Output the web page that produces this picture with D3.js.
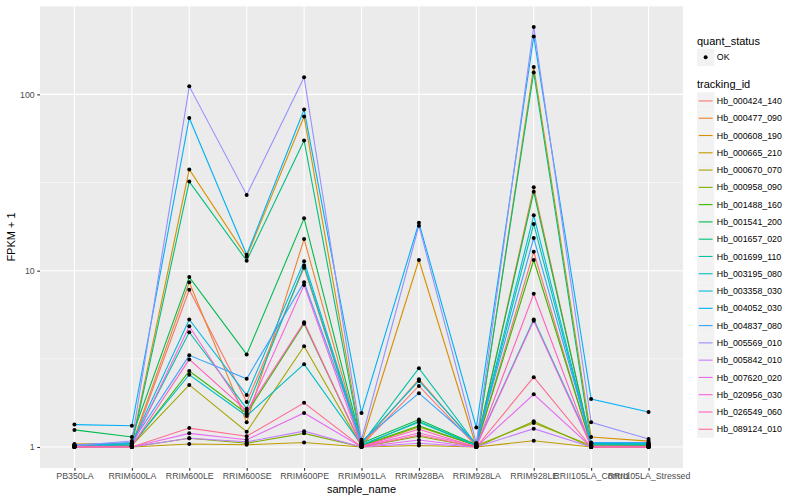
<!DOCTYPE html>
<html><head><meta charset="utf-8">
<script src="https://cdn.jsdelivr.net/npm/d3@7"></script>
<style>body{margin:0;background:#fff}svg{display:block}text{font-family:"Liberation Sans",Arial,Helvetica,sans-serif}</style>
</head><body><svg id="c" width="800" height="500"></svg>
<script>
const categories = ["PB350LA","RRIM600LA","RRIM600LE","RRIM600SE","RRIM600PE","RRIM901LA","RRIM928BA","RRIM928LA","RRIM928LE","RRII105LA_Control","RRII105LA_Stressed"];
const trackingIds = ["Hb_000424_140","Hb_000477_090","Hb_000608_190","Hb_000665_210","Hb_000670_070","Hb_000958_090","Hb_001488_160","Hb_001541_200","Hb_001657_020","Hb_001699_110","Hb_003195_080","Hb_003358_030","Hb_004052_030","Hb_004837_080","Hb_005569_010","Hb_005842_010","Hb_007620_020","Hb_020956_030","Hb_026549_060","Hb_089124_010"];
const colors = ["#F8766D","#EA8331","#D89000","#C09B00","#A3A500","#7CAE00","#39B600","#00BB4E","#00BF7D","#00C1A3","#00BFC4","#00BAE0","#00B0F6","#35A2FF","#9590FF","#C77CFF","#E76BF3","#FA62DB","#FF62BC","#FF6C91"];
const Hb_000424_140 = [1.0,1.01,7.8,1.80,10.4,1.02,2.22,1.01,12.8,1.01,1.0];
const Hb_000477_090 = [1.02,1.03,8.6,1.38,15.1,1.03,2.42,1.02,29.7,1.03,1.02];
const Hb_000608_190 = [1.04,1.05,37.5,12.0,74.8,1.05,11.5,1.0,143,1.14,1.08];
const Hb_000665_210 = [1.0,1.0,1.04,1.03,1.06,1.0,1.02,1.0,1.085,1.0,1.0];
const Hb_000670_070 = [1.01,1.02,2.25,1.22,3.73,1.01,1.30,1.02,1.37,1.02,1.01];
const Hb_000958_090 = [1.0,1.0,1.12,1.05,1.195,1.0,1.15,1.0,1.40,1.0,1.0];
const Hb_001488_160 = [1.01,1.02,2.70,1.55,5.0,1.02,1.32,1.02,11.5,1.03,1.02];
const Hb_001541_200 = [1.25,1.14,9.2,3.35,19.8,1.05,1.43,1.03,28,1.04,1.03];
const Hb_001657_020 = [1.0,1.02,32,11.4,54.8,1.02,1.40,1.02,133,1.05,1.04];
const Hb_001699_110 = [1.02,1.04,4.48,1.65,10.7,1.04,2.80,1.03,18.4,1.04,1.04];
const Hb_003195_080 = [1.01,1.03,2.57,1.50,2.95,1.03,1.38,1.02,5.29,1.03,1.03];
const Hb_003358_030 = [1.02,1.05,5.29,1.97,11.3,1.06,2.37,1.04,20.6,1.05,1.05];
const Hb_004052_030 = [1.34,1.32,73.5,12.3,82,1.56,18.7,1.29,213,1.87,1.58];
const Hb_004837_080 = [1.03,1.06,3.31,2.44,8.6,1.08,2.02,1.05,15.3,1.06,1.06];
const Hb_005569_010 = [1.02,1.08,111,26.9,125,1.1,18.0,1.05,241,1.38,1.11];
const Hb_005842_010 = [1.0,1.0,1.12,1.07,1.23,1.0,1.05,1.0,1.27,1.0,1.0];
const Hb_007620_020 = [1.0,1.0,1.195,1.10,1.56,1.0,1.095,1.0,1.99,1.0,1.0];
const Hb_020956_030 = [1.01,1.01,4.84,1.54,8.3,1.01,1.20,1.01,5.2,1.01,1.01];
const Hb_026549_060 = [1.0,1.01,3.14,1.60,5.1,1.01,1.26,1.0,7.4,1.0,1.0];
const Hb_089124_010 = [1.0,1.0,1.28,1.15,1.78,1.0,1.17,1.0,2.49,1.0,1.0];
const seriesValues = [Hb_000424_140,Hb_000477_090,Hb_000608_190,Hb_000665_210,Hb_000670_070,Hb_000958_090,Hb_001488_160,Hb_001541_200,Hb_001657_020,Hb_001699_110,Hb_003195_080,Hb_003358_030,Hb_004052_030,Hb_004837_080,Hb_005569_010,Hb_005842_010,Hb_007620_020,Hb_020956_030,Hb_026549_060,Hb_089124_010];
const yTicks = [1,10,100];

const series = trackingIds.map((id,i)=>({id, color:colors[i], values:seriesValues[i].map((v,j)=>({cat:categories[j], v}))}));

const svg = d3.select("#c");
const P = {l:40, r:683, t:6, b:468};
const x = d3.scalePoint().domain(categories).range([P.l,P.r]).padding(0.6);
const all = series.flatMap(s=>s.values.map(d=>Math.log10(d.v)));
const lo = d3.min(all), hi = d3.max(all), ex = (hi-lo)*0.05;
const ylog = d3.scaleLinear().domain([lo-ex, hi+ex]).range([P.b,P.t]);
const y = v => ylog(Math.log10(v));

svg.append("rect").attr("x",P.l).attr("y",P.t).attr("width",P.r-P.l).attr("height",P.b-P.t).attr("fill","#EBEBEB");
const g = svg.append("g");
// minor grid
[0.5,1.5,2.5,-0.5].forEach(m=>{const yy=ylog(m); if(yy>=P.t-0.5&&yy<=P.b) g.append("line").attr("x1",P.l).attr("x2",P.r).attr("y1",yy).attr("y2",yy).attr("stroke","#fff").attr("stroke-width",0.55);});
yTicks.forEach(t=>g.append("line").attr("x1",P.l).attr("x2",P.r).attr("y1",y(t)).attr("y2",y(t)).attr("stroke","#fff").attr("stroke-width",1.1));
categories.forEach(c=>g.append("line").attr("x1",x(c)).attr("x2",x(c)).attr("y1",P.t).attr("y2",P.b).attr("stroke","#fff").attr("stroke-width",1.1));

const line = d3.line().x(d=>x(d.cat)).y(d=>y(d.v));
svg.append("g").selectAll("path").data(series).join("path").attr("d",s=>line(s.values)).attr("fill","none").attr("stroke",s=>s.color).attr("stroke-width",1.1);
svg.append("g").selectAll("circle").data(series.flatMap(s=>s.values)).join("circle").attr("cx",d=>x(d.cat)).attr("cy",d=>y(d.v)).attr("r",2).attr("fill","#000");

// axes
const yAxis = d3.axisLeft(d3.scaleLinear().domain(ylog.domain()).range(ylog.range())).tickValues(yTicks.map(Math.log10)).tickFormat((d,i)=>String(yTicks[i])).tickSize(2.75).tickPadding(2.5);
const ya = svg.append("g").attr("transform",`translate(${P.l},0)`).call(yAxis);
const xAxis = d3.axisBottom(x).tickSize(2.75).tickPadding(2.5);
const xa = svg.append("g").attr("transform",`translate(0,${P.b})`).call(xAxis);
[ya,xa].forEach(a=>{a.select(".domain").remove();a.selectAll(".tick line").attr("stroke","#333").attr("stroke-width",1.1);a.selectAll("text").attr("fill","#4D4D4D").attr("font-size","8.8px");});
xa.selectAll("text").attr("dy","0.71em");

svg.append("text").attr("x",(P.l+P.r)/2).attr("y",493).attr("text-anchor","middle").attr("font-size","11px").attr("fill","#000").text("sample_name");
svg.append("text").attr("transform",`translate(15,${(P.t+P.b)/2}) rotate(-90)`).attr("text-anchor","middle").attr("font-size","11px").attr("fill","#000").text("FPKM + 1");

// legend
const L = svg.append("g");
const kx = 697, kw = 17.3;
L.append("text").attr("x",kx).attr("y",44.5).attr("font-size","11px").text("quant_status");
L.append("rect").attr("x",kx).attr("y",48.7).attr("width",kw).attr("height",kw).attr("fill","#F2F2F2");
L.append("circle").attr("cx",kx+kw/2).attr("cy",48.7+kw/2).attr("r",2).attr("fill","#000");
L.append("text").attr("x",kx+kw+2.5).attr("y",48.7+kw/2).attr("dy","0.35em").attr("font-size","8.8px").attr("fill","#000").text("OK");
L.append("text").attr("x",kx).attr("y",88).attr("font-size","11px").text("tracking_id");
const y0 = 92.3;
series.forEach((s,i)=>{
  const yy = y0 + i*17.28;
  L.append("rect").attr("x",kx).attr("y",yy).attr("width",kw).attr("height",kw).attr("fill","#F2F2F2");
  L.append("line").attr("x1",kx+1.7).attr("x2",kx+kw-1.7).attr("y1",yy+kw/2).attr("y2",yy+kw/2).attr("stroke",s.color).attr("stroke-width",1.1);
  L.append("text").attr("x",kx+kw+2.5).attr("y",yy+kw/2).attr("dy","0.35em").attr("font-size","8.8px").attr("fill","#000").text(s.id);
});
</script></body></html>
